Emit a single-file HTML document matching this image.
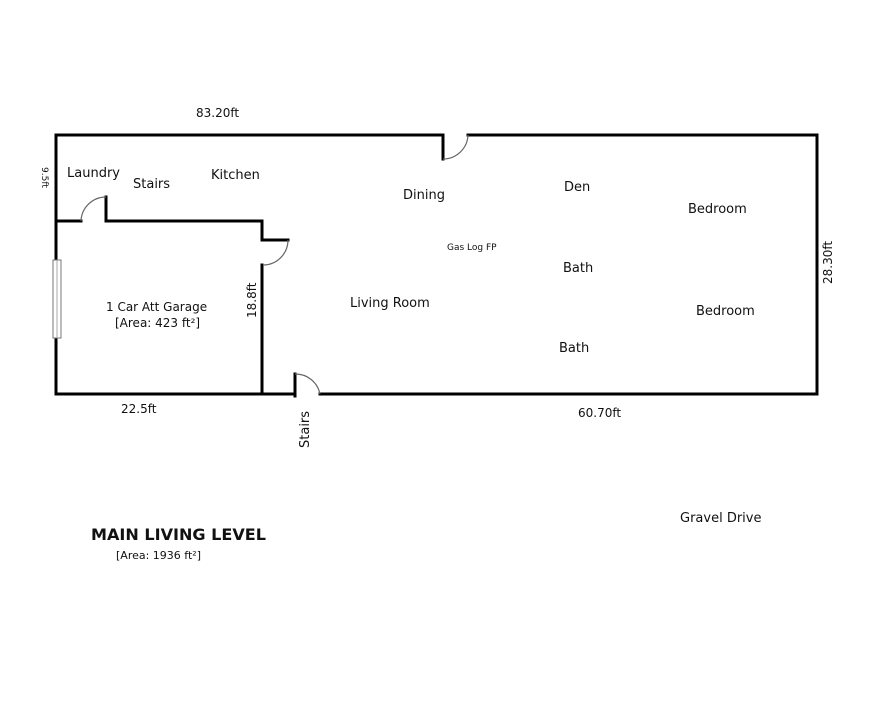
<!DOCTYPE html>
<html><head><style>
html,body{margin:0;padding:0;background:#fff;}
svg{display:block;}
text{font-family:"DejaVu Sans","Liberation Sans",sans-serif;fill:#111;}
</style></head><body>
<svg width="881" height="720" viewBox="0 0 881 720" xmlns="http://www.w3.org/2000/svg">
<g stroke="#000" stroke-width="3" fill="none" stroke-linecap="square">
<line x1="56" y1="135" x2="443" y2="135"/>
<line x1="468" y1="135" x2="817" y2="135"/>
<line x1="817" y1="135" x2="817" y2="394"/>
<line x1="56" y1="394" x2="295" y2="394"/>
<line x1="320" y1="394" x2="817" y2="394"/>
<line x1="56" y1="135" x2="56" y2="394"/>
<line x1="56" y1="221" x2="81" y2="221"/>
<line x1="106" y1="221" x2="262" y2="221"/>
<line x1="106" y1="197" x2="106" y2="221"/>
<line x1="262" y1="221" x2="262" y2="240"/>
<line x1="262" y1="265" x2="262" y2="394"/>
<line x1="265" y1="240" x2="288" y2="240"/>
<line x1="443" y1="135" x2="443" y2="159"/>
<line x1="295" y1="374" x2="295" y2="396"/>
</g>
<g stroke="#666" stroke-width="1.2" fill="none">
<path d="M81 221 A25 25 0 0 1 106 197"/>
<path d="M288 240 A25 25 0 0 1 263 265"/>
<path d="M443 159 A25 25 0 0 0 468 135"/>
<path d="M295 374 A25 25 0 0 1 320 394"/>
</g>
<rect x="53" y="260" width="8" height="78" fill="#fff" stroke="#777" stroke-width="1"/>
<line x1="57" y1="260" x2="57" y2="338" stroke="#aaa" stroke-width="1"/>
<g font-size="13">
<text x="196" y="117" font-size="12">83.20ft</text>
<text x="67" y="177">Laundry</text>
<text x="133" y="188">Stairs</text>
<text x="211" y="179">Kitchen</text>
<text x="403" y="199">Dining</text>
<text x="564" y="191">Den</text>
<text x="688" y="213">Bedroom</text>
<text x="447" y="250" font-size="9">Gas Log FP</text>
<text x="563" y="272">Bath</text>
<text x="350" y="307">Living Room</text>
<text x="696" y="315">Bedroom</text>
<text x="559" y="352">Bath</text>
<text x="106" y="311" font-size="12">1 Car Att Garage</text>
<text x="115" y="327" font-size="12">[Area: 423 ft²]</text>
<text x="121" y="413" font-size="12">22.5ft</text>
<text x="578" y="417" font-size="12">60.70ft</text>
<text x="680" y="522">Gravel Drive</text>
<text x="91" y="540" font-size="16" font-weight="bold" textLength="175" lengthAdjust="spacingAndGlyphs">MAIN LIVING LEVEL</text>
<text x="116" y="559" font-size="11">[Area: 1936 ft²]</text>
</g>
<text transform="translate(42,167) rotate(90)" font-size="9">9.5ft</text>
<text transform="translate(256,318) rotate(-90)" font-size="12">18.8ft</text>
<text transform="translate(832,284) rotate(-90)" font-size="12">28.30ft</text>
<text transform="translate(309,448) rotate(-90)" font-size="13">Stairs</text>
</svg>
</body></html>
